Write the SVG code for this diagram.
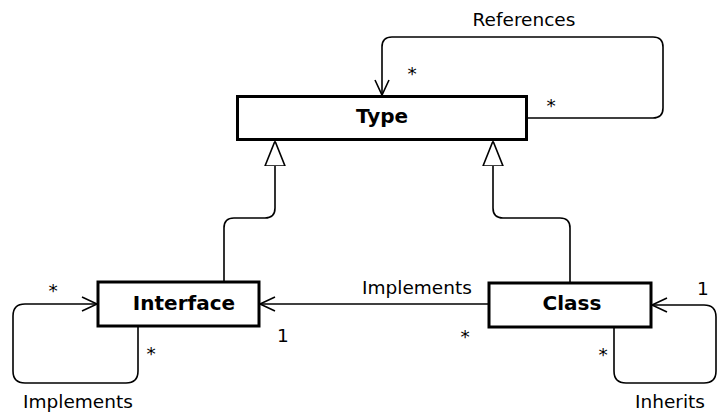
<svg xmlns="http://www.w3.org/2000/svg" width="718" height="412" viewBox="0 0 718 412">
<style>
.box{fill:#fff;stroke:#000;stroke-width:3}
.name{font-family:"DejaVu Sans",sans-serif;font-weight:bold;font-size:20px;text-anchor:middle;fill:#000}
.lbl{font-family:"DejaVu Sans",sans-serif;font-size:18.5px;fill:#000}
.mid{text-anchor:middle}
.edge{fill:none;stroke:#000;stroke-width:1.6}
</style>
<defs>
<marker id="open" markerWidth="18" markerHeight="16" refX="16" refY="8" orient="auto" markerUnits="userSpaceOnUse">
<path d="M1,1 L16,8 L1,15" fill="none" stroke="#000" stroke-width="1.6"/>
</marker>
<marker id="tri" markerWidth="24" markerHeight="28" refX="25" refY="11" orient="auto" markerUnits="userSpaceOnUse">
<path d="M0,1 L25,11 L0,21 Z" fill="#fff" stroke="#000" stroke-width="1.6"/>
</marker>
</defs>
<g id="connectors">
<path class="edge" d="M527,118 H653 Q663,118 663,108 V47 Q663,37 653,37 H392 Q382,37 382,47 V95" marker-end="url(#open)"/>
<path class="edge" d="M224,281 V228 Q224,218 234,218 H265 Q275,218 275,208 V141" marker-end="url(#tri)"/>
<path class="edge" d="M570,282 V228 Q570,218 560,218 H503 Q493,218 493,208 V141" marker-end="url(#tri)"/>
<path class="edge" d="M488,304 H260" marker-end="url(#open)"/>
<path class="edge" d="M138,327 V371 Q138,383 126,383 H25 Q13,383 13,371 V316 Q13,304 25,304 H97" marker-end="url(#open)"/>
<path class="edge" d="M614,328 V371 Q614,383 626,383 H704 Q716,383 716,371 V317 Q716,305 704,305 H652" marker-end="url(#open)"/>
<text class="lbl mid" x="524" y="26">References</text>
<text class="lbl mid" x="412" y="80">*</text>
<text class="lbl mid" x="551" y="112">*</text>
<text class="lbl mid" x="417" y="294">Implements</text>
<text class="lbl mid" x="283" y="342">1</text>
<text class="lbl mid" x="465" y="343">*</text>
<text class="lbl mid" x="53" y="297">*</text>
<text class="lbl mid" x="151" y="360">*</text>
<text class="lbl mid" x="78" y="408">Implements</text>
<text class="lbl mid" x="703" y="295">1</text>
<text class="lbl mid" x="603" y="361">*</text>
<text class="lbl mid" x="670" y="408">Inherits</text>
</g>
<g id="type">
<rect class="box" x="237.5" y="96.5" width="289" height="43"/>
<text class="name" x="382" y="123">Type</text>
</g>
<g id="interface">
<rect class="box" x="98" y="282" width="161" height="44"/>
<text class="name" x="184" y="310">Interface</text>
</g>
<g id="class">
<rect class="box" x="489" y="283" width="162" height="44"/>
<text class="name" x="572" y="310">Class</text>
</g>
</svg>
